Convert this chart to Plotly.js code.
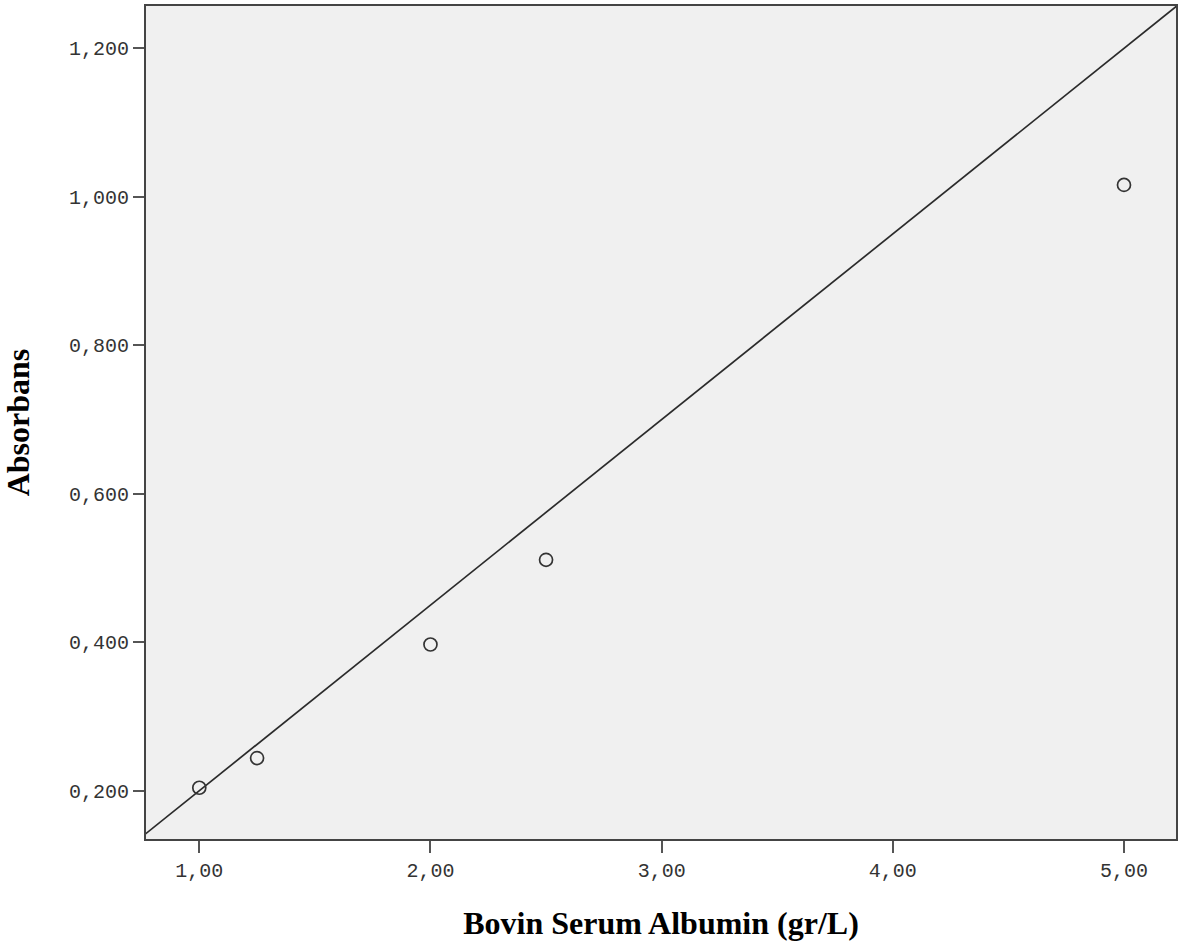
<!DOCTYPE html>
<html>
<head>
<meta charset="utf-8">
<script src="https://cdn.plot.ly/plotly-3.0.1.min.js"></script>
<style>
  html, body { margin: 0; padding: 0; background: #ffffff; }
  #chart { width: 1183px; height: 945px; }
</style>
</head>
<body>
<div id="chart"></div>
<script>
// Data
const bsaConcentration = [1.00, 1.25, 2.00, 2.50, 5.00];      // Bovin Serum Albumin (gr/L)
const absorbance       = [0.204, 0.244, 0.397, 0.511, 1.016]; // Absorbans

// Reference line endpoints (clipped by the axes)
const refLineX = [0.75, 5.25];
const refLineY = [0.1375, 1.2625];

// Tick values and labels (decimal comma)
const xTickVals = [1, 2, 3, 4, 5];
const xTickText = ["1,00", "2,00", "3,00", "4,00", "5,00"];
const yTickVals = [0.2, 0.4, 0.6, 0.8, 1.0, 1.2];
const yTickText = ["0,200", "0,400", "0,600", "0,800", "1,000", "1,200"];

const tickFont = { family: "Liberation Mono, 'Courier New', monospace", size: 20, color: "#333333" };
const titleFont = { family: "Liberation Serif, 'Times New Roman', serif", size: 32, color: "#000000", weight: "bold" };

const traces = [
  {
    type: "scatter",
    mode: "lines",
    x: refLineX,
    y: refLineY,
    line: { color: "#2b2b2b", width: 1.7 },
    hoverinfo: "skip",
    showlegend: false
  },
  {
    type: "scatter",
    mode: "markers",
    x: bsaConcentration,
    y: absorbance,
    marker: {
      symbol: "circle-open",
      size: 13,
      color: "#333333",
      line: { color: "#333333", width: 1.7 }
    },
    showlegend: false
  }
];

const layout = {
  width: 1183,
  height: 945,
  paper_bgcolor: "#ffffff",
  plot_bgcolor: "#f0f0f0",
  margin: { l: 146, r: 7, t: 6, b: 106 },
  showlegend: false,
  xaxis: {
    range: [0.7695, 5.225],
    tickmode: "array",
    tickvals: xTickVals,
    ticktext: xTickText,
    ticks: "outside",
    ticklen: 12,
    tickwidth: 2,
    tickcolor: "#555555",
    tickfont: tickFont,
    showgrid: false,
    zeroline: false,
    showline: true,
    linecolor: "#444444",
    linewidth: 2,
    mirror: true,
    title: { text: "Bovin Serum Albumin (gr/L)", font: titleFont, standoff: 30 }
  },
  yaxis: {
    range: [0.135, 1.257],
    tickmode: "array",
    tickvals: yTickVals,
    ticktext: yTickText,
    ticks: "outside",
    ticklen: 11,
    tickwidth: 2,
    tickcolor: "#555555",
    tickfont: tickFont,
    showgrid: false,
    zeroline: false,
    showline: true,
    linecolor: "#444444",
    linewidth: 2,
    mirror: true,
    title: { text: "Absorbans", font: titleFont, standoff: 30 }
  }
};

Plotly.newPlot("chart", traces, layout, { displayModeBar: false, staticPlot: true });
</script>
</body>
</html>
